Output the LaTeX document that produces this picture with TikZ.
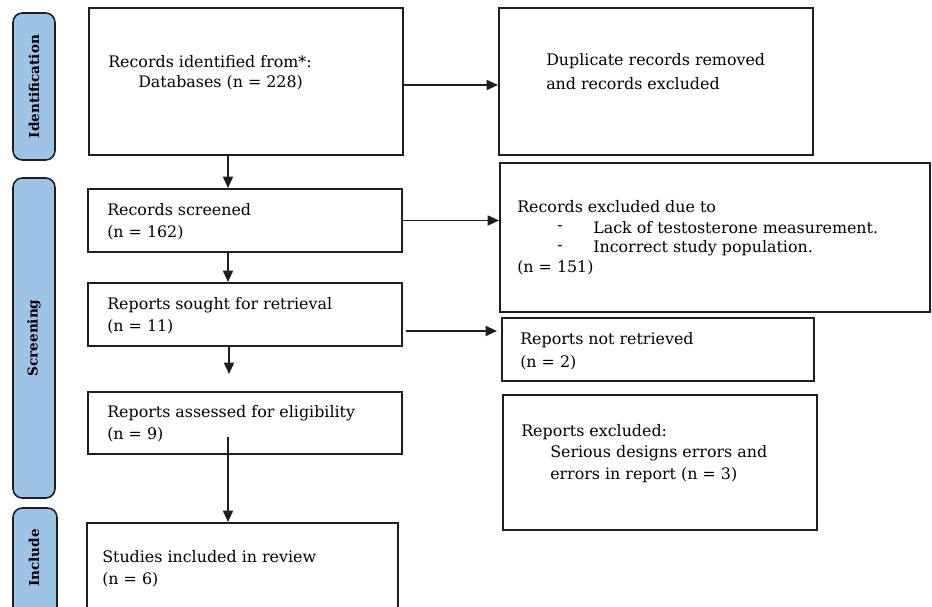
\documentclass[tikz,border=0pt]{standalone}
\usepackage{fontspec}
\setmainfont{DejaVu Serif}
\usetikzlibrary{arrows.meta,fit,calc}
\definecolor{pillblue}{RGB}{157,195,230}
\definecolor{edge}{RGB}{30,30,30}
\begin{document}
\begin{tikzpicture}[x=0.75pt,y=-0.75pt,
  box/.style={draw=edge,line width=1.5pt,inner sep=0pt,fill=white},
  pill/.style={draw=edge,line width=1.2pt,fill=pillblue,rounded corners=7pt,inner sep=0pt},
  lbl/.style={anchor=west,inner sep=0pt,font=\fontsize{11.9}{13}\selectfont},
  stage/.style={rotate=90,inner sep=0pt,font=\bfseries\fontsize{10.2}{12}\selectfont},
  arr/.style={draw=edge,line width=1.3pt,-{Triangle[length=8.5pt,width=7.5pt]}}]
\clip (0,0) rectangle (932,607);
\fill[white] (0,0) rectangle (932,607);
% stage pills
\node[pill, fit={(13,13) (55,160)}] (p1) {};
\node[stage] (s1) at (p1.center) {Identification};
\node[pill, fit={(13,178) (55,498)}] (p2) {};
\node[stage] (s2) at (p2.center) {Screening};
\node[pill, fit={(13,508) (57,640)}] (p3) {};
\node[stage] (s3) at (34,558) {Include};
% boxes
\node[box, fit={(89,8) (403,155)}] (A) {};
\node[box, fit={(499,8) (813,155)}] (B) {};
\node[box, fit={(88,189) (402,252)}] (C) {};
\node[box, fit={(500,163) (930,312)}] (E) {};
\node[box, fit={(88,283) (402,346)}] (D) {};
\node[box, fit={(502,318) (814,381)}] (F) {};
\node[box, fit={(503,395) (817,530)}] (G) {};
\node[box, fit={(88,392) (402,454)}] (H) {};
\node[box, fit={(87,523) (398,640)}] (I) {};
% texts
\node[lbl] (a1) at (108,62) {Records identified from*:};
\node[lbl] (a2) at (138,83) {Databases (n = 228)};
\node[lbl] (b1) at (546,61) {Duplicate records removed};
\node[lbl] (b2) at (546,84) {and records excluded};
\node[lbl] (c1) at (107,210) {Records screened};
\node[lbl] (c2) at (107,233) {(n = 162)};
\node[lbl] (d1) at (107,305) {Reports sought for retrieval};
\node[lbl] (d2) at (107,327) {(n = 11)};
\node[lbl] (e1) at (517,207) {Records excluded due to};
\node[lbl] (e2) at (557,228) {-};
\node[lbl] (e3) at (593,228) {Lack of testosterone measurement.};
\node[lbl] (e4) at (557,248) {-};
\node[lbl] (e5) at (593,248) {Incorrect study population.};
\node[lbl] (e6) at (517,268) {(n = 151)};
\node[lbl] (f1) at (520,340) {Reports not retrieved};
\node[lbl] (f2) at (520,363) {(n = 2)};
\node[lbl] (g1) at (521,432) {Reports excluded:};
\node[lbl] (g2) at (550,453) {Serious designs errors and};
\node[lbl] (g3) at (550,475) {errors in report (n = 3)};
\node[lbl] (h1) at (107,413) {Reports assessed for eligibility};
\node[lbl] (h2) at (107,435) {(n = 9)};
\node[lbl] (i1) at (102,557) {Studies included in review};
\node[lbl] (i2) at (102,580) {(n = 6)};
% connectors
\coordinate (vx) at (228,0);
\coordinate (ab) at (0,85);
\coordinate (df) at (0,331);
\coordinate (dh) at (229,374);
\coordinate (hs) at (228,437);
\draw[arr] (A.east |- ab) -- (B.west |- ab);
\draw[arr] (A.south -| vx) -- (C.north -| vx);
\draw[arr] (C.east) -- (C.east -| E.west);
\draw[arr] (C.south -| vx) -- (D.north -| vx);
\draw[arr] ($(D.east |- df)+(3,0)$) -- ($(F.west |- df)+(-4,0)$);
\draw[arr] (D.south -| dh) -- (dh);
\draw[arr] (hs) -- (I.north -| vx);
\end{tikzpicture}
\end{document}
